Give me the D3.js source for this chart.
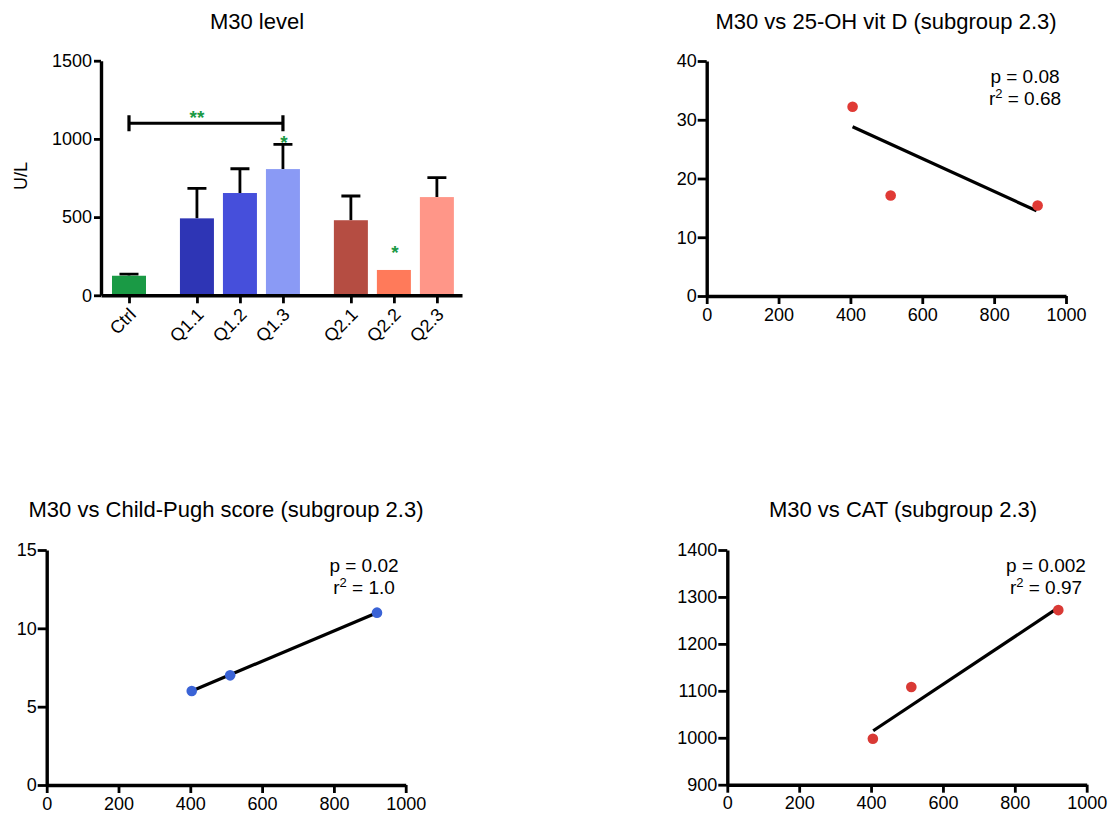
<!DOCTYPE html>
<html>
<head>
<meta charset="utf-8">
<script src="https://cdn.jsdelivr.net/npm/d3@7"></script>
<style>
  body { margin: 0; background: #fff; }
  svg { font-family: "Liberation Sans", Arial, sans-serif; }
</style>
</head>
<body>
<svg id="chart" width="1111" height="813"></svg>
<script>
// bar chart data
const barCats = ['Ctrl', 'Q1.1', 'Q1.2', 'Q1.3', 'Q2.1', 'Q2.2', 'Q2.3']
const barGroups = [0, 1, 1, 1, 2, 2, 2]
const barMeans = [125, 492, 654, 807, 480, 162, 628]
const barSem = [11, 192, 155, 158, 155, 0, 124]
const barColors = ['#1a9a45', '#2e35b5', '#464fdb', '#8a9af5', '#b54d42', '#ff7a5a', '#ff9688']
const barTicks = [0, 500, 1000, 1500]
const bracket = { from: 'Ctrl', to: 'Q1.3', value: 1100, label: '**', labelAt: 'Q1.1', labelValue: 1166 }
const stars = [{ cat: 'Q1.3', value: 1006 }, { cat: 'Q2.2', value: 302 }]

// scatter data, x = M30 (U/L)
const vitdX = [406, 512, 921]
const vitdY = [32.2, 17.1, 15.4]
const vitdFitX = [406, 918]
const vitdFitY = [28.8, 14.5]

const cpX = [404, 511, 920]
const cpY = [6, 7, 11]
const cpFitX = [404, 920]
const cpFitY = [6, 11]

const catX = [405, 512, 921]
const catY = [998, 1108, 1272]
const catFitX = [406, 919]
const catFitY = [1015, 1276]

const scatterXTicks = [0, 200, 400, 600, 800, 1000]

const svg = d3.select('#chart')
const fmt = d3.format('d')

const styleAxis = g => {
  g.select('.domain').attr('stroke', '#000').attr('stroke-width', 3.4)
  g.selectAll('.tick line').attr('stroke', '#000').attr('stroke-width', 2.8)
  g.selectAll('.tick text').attr('fill', '#000').attr('font-size', 18)
}

// ---------- bar chart ----------
const drawBars = () => {
  const left = 101, right = 462, top = 60.7, bottom = 295.3
  const pos = barCats.map((c, i) => i + barGroups[i] * 0.58)
  const x = d3.scaleLinear().domain([-0.651, 7.744]).range([left, right])
  const xc = name => x(pos[barCats.indexOf(name)])
  const y = d3.scaleLinear().domain([0, 1500]).range([bottom, top])
  const bw = 34
  const g = svg.append('g')

  g.append('text')
    .attr('x', 257).attr('y', 29)
    .attr('text-anchor', 'middle').attr('font-size', 22)
    .text('M30 level')

  g.append('text')
    .attr('transform', 'translate(27,176) rotate(-90)')
    .attr('text-anchor', 'middle').attr('font-size', 18)
    .text('U/L')

  // error bars first, bars cover the lower half
  const errs = barCats.map((c, i) => ({ c, i })).filter(d => barSem[d.i] > 0)
  g.selectAll('.err').data(errs).enter().append('path')
    .attr('stroke', '#000').attr('stroke-width', 2.8).attr('fill', 'none')
    .attr('d', d => {
      const cx = x(pos[d.i])
      const yt = y(barMeans[d.i] + barSem[d.i])
      return `M${cx},${y(barMeans[d.i])}V${yt}M${cx - 9.5},${yt}H${cx + 9.5}`
    })

  g.selectAll('.bar').data(barMeans).enter().append('rect')
    .attr('x', (d, i) => x(pos[i]) - bw / 2)
    .attr('width', bw)
    .attr('y', d => y(d))
    .attr('height', d => bottom - y(d))
    .attr('fill', (d, i) => barColors[i])

  const yAxis = g.append('g').attr('transform', `translate(${left},0)`)
    .call(d3.axisLeft(y).tickValues(barTicks).tickFormat(fmt).tickSize(7).tickSizeOuter(0).tickPadding(2))
  styleAxis(yAxis)

  const xAxis = g.append('g').attr('transform', `translate(0,${bottom})`)
    .call(d3.axisBottom(x).tickValues(pos).tickFormat((d, i) => barCats[i]).tickSize(8).tickSizeOuter(0))
  styleAxis(xAxis)
  xAxis.selectAll('.tick text')
    .attr('x', 0).attr('y', 0).attr('dy', '0.35em')
    .attr('text-anchor', 'end')
    .attr('transform', 'translate(3,16) rotate(-45)')

  // significance bracket
  const by = y(bracket.value)
  g.append('path')
    .attr('stroke', '#000').attr('stroke-width', 3.2).attr('fill', 'none')
    .attr('d', `M${xc(bracket.from)},${by - 8}V${by + 8}M${xc(bracket.from)},${by}H${xc(bracket.to)}M${xc(bracket.to)},${by - 8}V${by + 8}`)
  g.append('text')
    .attr('x', xc(bracket.labelAt)).attr('y', y(bracket.labelValue) + 11)
    .attr('text-anchor', 'middle').attr('font-size', 19).attr('font-weight', 'bold')
    .attr('fill', '#1a9a45')
    .text(bracket.label)

  g.selectAll('.star').data(stars).enter().append('text')
    .attr('x', d => xc(d.cat) + 1).attr('y', d => y(d.value) + 11)
    .attr('text-anchor', 'middle').attr('font-size', 19).attr('font-weight', 'bold')
    .attr('fill', '#1a9a45')
    .text('*')
}

// ---------- scatter panels ----------
const drawScatter = opt => {
  const { left, right, top, bottom } = opt
  const x = d3.scaleLinear().domain([0, 1000]).range([left, right])
  const y = d3.scaleLinear().domain(opt.yDomain).range([bottom, top])
  const g = svg.append('g')

  g.append('text')
    .attr('x', opt.titleX).attr('y', opt.titleY)
    .attr('text-anchor', 'middle').attr('font-size', 22)
    .text(opt.title)

  const yAxis = g.append('g').attr('transform', `translate(${left},0)`)
    .call(d3.axisLeft(y).tickValues(opt.yTicks).tickFormat(fmt).tickSize(9).tickSizeOuter(0).tickPadding(1))
  styleAxis(yAxis)

  const xAxis = g.append('g').attr('transform', `translate(0,${bottom})`)
    .call(d3.axisBottom(x).tickValues(scatterXTicks).tickFormat(fmt).tickSize(8).tickSizeOuter(0).tickPadding(4))
  styleAxis(xAxis)

  const line = d3.line().x(d => x(d[0])).y(d => y(d[1]))
  g.append('path')
    .datum(opt.fitX.map((v, i) => [v, opt.fitY[i]]))
    .attr('fill', 'none').attr('stroke', '#000').attr('stroke-width', 3.2)
    .attr('d', line)

  g.selectAll('.dot').data(opt.xs).enter().append('circle')
    .attr('cx', d => x(d))
    .attr('cy', (d, i) => y(opt.ys[i]))
    .attr('r', 5.3)
    .attr('fill', opt.color)

  g.append('text')
    .attr('x', opt.statsX).attr('y', opt.statsY)
    .attr('text-anchor', 'middle').attr('font-size', 19)
    .text(`p = ${opt.p}`)
  const r = g.append('text')
    .attr('x', opt.statsX).attr('y', opt.statsY + 22)
    .attr('text-anchor', 'middle').attr('font-size', 19)
  r.append('tspan').text('r')
  r.append('tspan').attr('dy', -7).attr('font-size', 13).text('2')
  r.append('tspan').attr('dy', 7).text(` = ${opt.r2}`)
}

drawBars()

drawScatter({
  left: 706.7, right: 1066, top: 61, bottom: 296,
  yDomain: [0, 40], yTicks: [0, 10, 20, 30, 40],
  title: 'M30 vs 25-OH vit D (subgroup 2.3)', titleX: 886, titleY: 29,
  xs: vitdX, ys: vitdY, fitX: vitdFitX, fitY: vitdFitY,
  color: '#e03a35', p: '0.08', r2: '0.68', statsX: 1025, statsY: 83
})

drawScatter({
  left: 46.7, right: 405.7, top: 550, bottom: 785,
  yDomain: [0, 15], yTicks: [0, 5, 10, 15],
  title: 'M30 vs Child-Pugh score (subgroup 2.3)', titleX: 226, titleY: 517,
  xs: cpX, ys: cpY, fitX: cpFitX, fitY: cpFitY,
  color: '#3a63d6', p: '0.02', r2: '1.0', statsX: 364, statsY: 572
})

drawScatter({
  left: 727.3, right: 1086.7, top: 550, bottom: 784.7,
  yDomain: [900, 1400], yTicks: [900, 1000, 1100, 1200, 1300, 1400],
  title: 'M30 vs CAT (subgroup 2.3)', titleX: 903, titleY: 517,
  xs: catX, ys: catY, fitX: catFitX, fitY: catFitY,
  color: '#d93a35', p: '0.002', r2: '0.97', statsX: 1046, statsY: 572
})
</script>
</body>
</html>
